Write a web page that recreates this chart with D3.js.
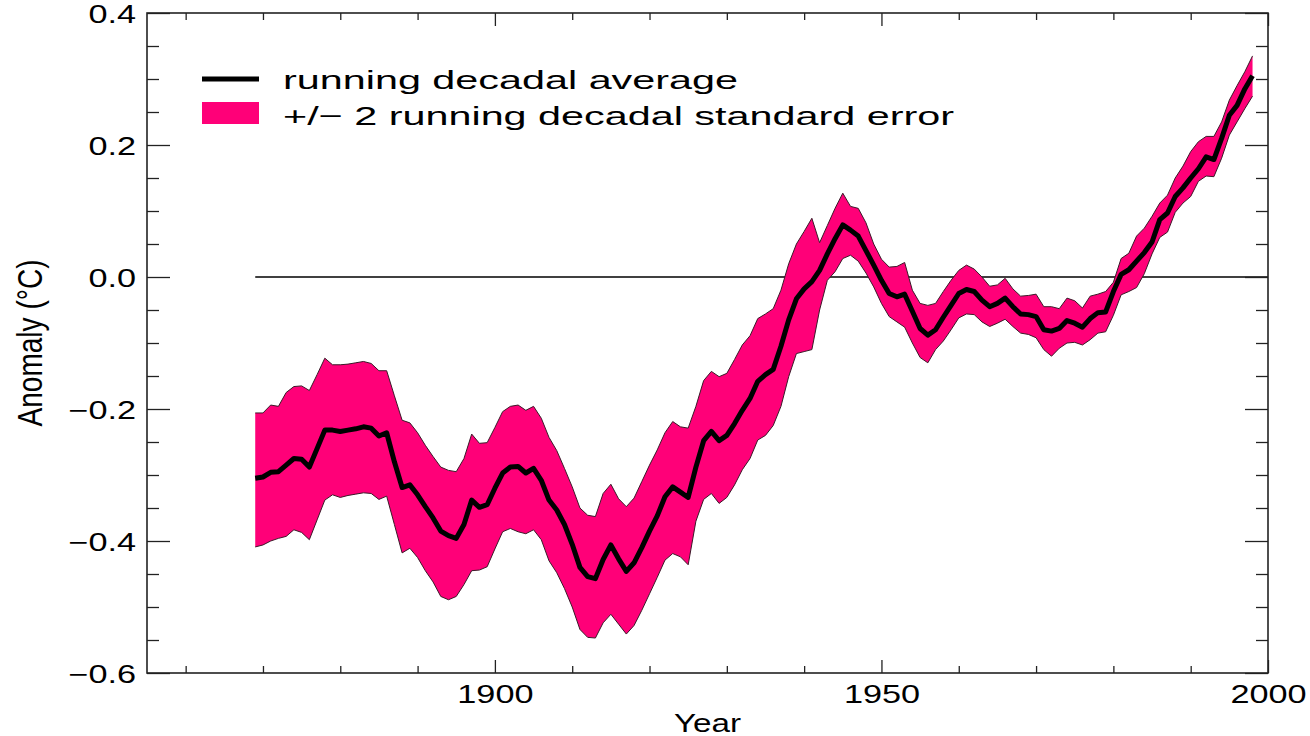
<!DOCTYPE html>
<html>
<head>
<meta charset="utf-8">
<script src="https://cdn.jsdelivr.net/npm/d3@7"></script>
<style>
  html, body { margin: 0; padding: 0; background: #ffffff; }
  svg { display: block; }
  text { font-family: "Liberation Sans", Arial, Helvetica, sans-serif; fill: #000; }
</style>
</head>
<body>
<svg id="chart" width="1310" height="736"></svg>
<script>
// ---------------- data ----------------
const years = [
  1869,1870,1871,1872,1873,1874,1875,1876,1877,1878,
  1879,1880,1881,1882,1883,1884,1885,1886,1887,1888,
  1889,1890,1891,1892,1893,1894,1895,1896,1897,1898,
  1899,1900,1901,1902,1903,1904,1905,1906,1907,1908,
  1909,1910,1911,1912,1913,1914,1915,1916,1917,1918,
  1919,1920,1921,1922,1923,1924,1925,1926,1927,1928,
  1929,1930,1931,1932,1933,1934,1935,1936,1937,1938,
  1939,1940,1941,1942,1943,1944,1945,1946,1947,1948,
  1949,1950,1951,1952,1953,1954,1955,1956,1957,1958,
  1959,1960,1961,1962,1963,1964,1965,1966,1967,1968,
  1969,1970,1971,1972,1973,1974,1975,1976,1977,1978,
  1979,1980,1981,1982,1983,1984,1985,1986,1987,1988,
  1989,1990,1991,1992,1993,1994,1995,1996,1997,1998
];

const runningMean = [
  -0.305,-0.303,-0.296,-0.295,-0.285,-0.275,-0.276,-0.288,-0.260,-0.232,
  -0.232,-0.234,-0.232,-0.230,-0.227,-0.229,-0.241,-0.236,-0.280,-0.319,
  -0.315,-0.330,-0.348,-0.365,-0.385,-0.392,-0.396,-0.375,-0.338,-0.349,
  -0.345,-0.320,-0.297,-0.288,-0.287,-0.297,-0.290,-0.308,-0.338,-0.353,
  -0.375,-0.405,-0.440,-0.454,-0.457,-0.428,-0.406,-0.427,-0.446,-0.433,
  -0.410,-0.385,-0.362,-0.333,-0.318,-0.326,-0.334,-0.288,-0.248,-0.234,
  -0.248,-0.240,-0.222,-0.202,-0.184,-0.158,-0.148,-0.140,-0.105,-0.065,
  -0.033,-0.018,-0.007,0.010,0.035,0.058,0.079,0.071,0.062,0.040,
  0.018,-0.005,-0.025,-0.030,-0.026,-0.052,-0.078,-0.088,-0.080,-0.061,
  -0.043,-0.025,-0.019,-0.022,-0.035,-0.045,-0.040,-0.032,-0.045,-0.056,
  -0.057,-0.060,-0.080,-0.082,-0.078,-0.066,-0.070,-0.076,-0.063,-0.054,
  -0.053,-0.022,0.004,0.011,0.024,0.037,0.053,0.087,0.097,0.122,
  0.135,0.150,0.164,0.182,0.178,0.210,0.245,0.260,0.285,0.305
];

const upperBound = [
  -0.206,-0.206,-0.194,-0.196,-0.175,-0.166,-0.165,-0.172,-0.148,-0.123,
  -0.133,-0.133,-0.132,-0.130,-0.128,-0.131,-0.142,-0.142,-0.180,-0.217,
  -0.221,-0.236,-0.255,-0.272,-0.288,-0.293,-0.295,-0.275,-0.238,-0.252,
  -0.251,-0.228,-0.204,-0.196,-0.194,-0.202,-0.196,-0.214,-0.243,-0.263,
  -0.290,-0.318,-0.350,-0.361,-0.363,-0.328,-0.314,-0.336,-0.348,-0.335,
  -0.310,-0.285,-0.262,-0.236,-0.219,-0.227,-0.229,-0.196,-0.157,-0.143,
  -0.151,-0.146,-0.125,-0.103,-0.089,-0.063,-0.056,-0.048,-0.020,0.020,
  0.050,0.069,0.089,0.052,0.078,0.104,0.127,0.107,0.104,0.082,
  0.050,0.027,0.015,0.016,0.022,-0.020,-0.040,-0.043,-0.040,-0.022,
  -0.005,0.010,0.018,0.012,0.000,-0.014,-0.012,-0.002,-0.018,-0.029,
  -0.028,-0.026,-0.045,-0.045,-0.048,-0.032,-0.036,-0.047,-0.029,-0.026,
  -0.022,-0.008,0.028,0.036,0.062,0.074,0.092,0.112,0.124,0.150,
  0.168,0.190,0.205,0.213,0.213,0.235,0.268,0.290,0.311,0.335
];

const lowerBound = [
  -0.409,-0.406,-0.400,-0.396,-0.393,-0.383,-0.387,-0.398,-0.368,-0.338,
  -0.330,-0.334,-0.331,-0.329,-0.327,-0.328,-0.337,-0.332,-0.375,-0.418,
  -0.411,-0.425,-0.445,-0.462,-0.484,-0.489,-0.484,-0.466,-0.445,-0.444,
  -0.439,-0.412,-0.386,-0.381,-0.386,-0.389,-0.383,-0.398,-0.430,-0.448,
  -0.472,-0.500,-0.534,-0.546,-0.547,-0.524,-0.511,-0.526,-0.541,-0.528,
  -0.505,-0.480,-0.455,-0.429,-0.419,-0.424,-0.436,-0.370,-0.337,-0.328,
  -0.343,-0.334,-0.315,-0.292,-0.275,-0.247,-0.240,-0.225,-0.196,-0.151,
  -0.116,-0.113,-0.110,-0.050,-0.005,0.008,0.028,0.033,0.024,0.006,
  -0.015,-0.040,-0.060,-0.068,-0.076,-0.100,-0.122,-0.130,-0.110,-0.097,
  -0.080,-0.062,-0.056,-0.057,-0.068,-0.075,-0.070,-0.064,-0.075,-0.085,
  -0.087,-0.092,-0.110,-0.120,-0.108,-0.100,-0.099,-0.103,-0.095,-0.085,
  -0.083,-0.058,-0.027,-0.022,-0.016,0.005,0.035,0.060,0.068,0.098,
  0.112,0.122,0.145,0.153,0.152,0.180,0.215,0.235,0.255,0.274
];

const xDomain = [1855, 2000];
const yDomain = [-0.6, 0.4];
const xMajorTicks = [1900, 1950, 2000];
const xMinorTicks = [1860, 1870, 1880, 1890, 1910, 1920, 1930, 1940, 1960, 1970, 1980, 1990];
const yMajorTicks = [-0.6, -0.4, -0.2, 0.0, 0.2, 0.4];
const yMinorTicks = [-0.55, -0.5, -0.45, -0.35, -0.3, -0.25, -0.15, -0.1, -0.05, 0.05, 0.1, 0.15, 0.25, 0.3, 0.35];
const legendLabels = ["running decadal average", "+/\u2212 2 running decadal standard error"];
const xTitle = "Year";
const yTitle = "Anomaly (\u00B0C)";

// ---------------- layout ----------------
const pinkColor = "#ff0078";
const plot = { left: 147, right: 1268, top: 13, bottom: 673 };
const svg = d3.select("#chart");

const x = d3.scaleLinear().domain(xDomain).range([plot.left, plot.right]);
const y = d3.scaleLinear().domain(yDomain).range([plot.bottom, plot.top]);

const series = years.map((yr, i) => ({ year: yr, mean: runningMean[i], hi: upperBound[i], lo: lowerBound[i] }));

// zero reference line
svg.append("line")
  .attr("x1", x(years[0])).attr("x2", x(xDomain[1]))
  .attr("y1", y(0)).attr("y2", y(0))
  .attr("stroke", "#000").attr("stroke-width", 1.3);

// error band
const area = d3.area().x(d => x(d.year)).y0(d => y(d.lo)).y1(d => y(d.hi));
svg.append("path").datum(series).attr("d", area).attr("fill", pinkColor);

const edge = (acc) => d3.line().x(d => x(d.year)).y(d => y(acc(d)));
svg.append("path").datum(series).attr("d", edge(d => d.hi))
  .attr("fill", "none").attr("stroke", "#3a1a28").attr("stroke-width", 1);
svg.append("path").datum(series).attr("d", edge(d => d.lo))
  .attr("fill", "none").attr("stroke", "#3a1a28").attr("stroke-width", 1);

// running mean
svg.append("path").datum(series).attr("d", edge(d => d.mean))
  .attr("fill", "none").attr("stroke", "#000").attr("stroke-width", 5)
  .attr("stroke-linejoin", "round");

// ---------------- axes ----------------
const tickColor = "#222";
function styleAxis(g) {
  g.select(".domain").remove();
  g.selectAll(".tick line").attr("stroke", tickColor).attr("stroke-width", 1.3);
}
const fmt = d3.format(".1f");
const sxTick = 1.37;

// bottom
svg.append("g").attr("transform", `translate(0,${plot.bottom})`)
  .call(d3.axisBottom(x).tickValues(xMajorTicks).tickSize(-13).tickFormat(d3.format("d")))
  .call(styleAxis)
  .call(g => g.selectAll(".tick text")
    .attr("y", 0).attr("dy", null)
    .attr("font-size", 25)
    .attr("transform", `translate(0,30) scale(${sxTick},1)`));
svg.append("g").attr("transform", `translate(0,${plot.bottom})`)
  .call(d3.axisBottom(x).tickValues(xMinorTicks).tickSize(-7).tickFormat(""))
  .call(styleAxis);
// top
svg.append("g").attr("transform", `translate(0,${plot.top})`)
  .call(d3.axisTop(x).tickValues(xMajorTicks).tickSize(-13).tickFormat(""))
  .call(styleAxis);
svg.append("g").attr("transform", `translate(0,${plot.top})`)
  .call(d3.axisTop(x).tickValues(xMinorTicks).tickSize(-7).tickFormat(""))
  .call(styleAxis);
// left
svg.append("g").attr("transform", `translate(${plot.left},0)`)
  .call(d3.axisLeft(y).tickValues(yMajorTicks).tickSize(-23).tickFormat(fmt))
  .call(styleAxis)
  .call(g => g.selectAll(".tick text")
    .attr("x", 0).attr("dy", "0.36em")
    .attr("text-anchor", "end")
    .attr("font-size", 25)
    .attr("transform", `translate(-11,0) scale(${sxTick},1)`));
svg.append("g").attr("transform", `translate(${plot.left},0)`)
  .call(d3.axisLeft(y).tickValues(yMinorTicks).tickSize(-12).tickFormat(""))
  .call(styleAxis);
// right
svg.append("g").attr("transform", `translate(${plot.right},0)`)
  .call(d3.axisRight(y).tickValues(yMajorTicks).tickSize(-23).tickFormat(""))
  .call(styleAxis);
svg.append("g").attr("transform", `translate(${plot.right},0)`)
  .call(d3.axisRight(y).tickValues(yMinorTicks).tickSize(-12).tickFormat(""))
  .call(styleAxis);

// frame
svg.append("rect")
  .attr("x", plot.left).attr("y", plot.top)
  .attr("width", plot.right - plot.left).attr("height", plot.bottom - plot.top)
  .attr("fill", "none").attr("stroke", tickColor).attr("stroke-width", 1.6);

// axis titles
svg.append("text")
  .attr("font-size", 25)
  .attr("text-anchor", "middle")
  .attr("transform", `translate(${(plot.left + plot.right) / 2},732) scale(1.33,1)`)
  .text(xTitle);

svg.append("text")
  .attr("font-size", 27)
  .attr("text-anchor", "middle")
  .attr("textLength", 167).attr("lengthAdjust", "spacingAndGlyphs")
  .attr("transform", `translate(42,343) scale(1.33,1) rotate(-90)`)
  .text(yTitle);

// ---------------- legend ----------------
const leg = svg.append("g");
leg.append("line")
  .attr("x1", 202).attr("x2", 259).attr("y1", 79).attr("y2", 79)
  .attr("stroke", "#000").attr("stroke-width", 5);
leg.append("rect")
  .attr("x", 202).attr("y", 102).attr("width", 57).attr("height", 22)
  .attr("fill", pinkColor);
leg.append("text")
  .attr("x", 283).attr("y", 89)
  .attr("font-size", 26)
  .attr("textLength", 455).attr("lengthAdjust", "spacingAndGlyphs")
  .text(legendLabels[0]);
leg.append("text")
  .attr("x", 283).attr("y", 125)
  .attr("font-size", 26)
  .attr("textLength", 671).attr("lengthAdjust", "spacingAndGlyphs")
  .text(legendLabels[1]);
</script>
</body>
</html>
